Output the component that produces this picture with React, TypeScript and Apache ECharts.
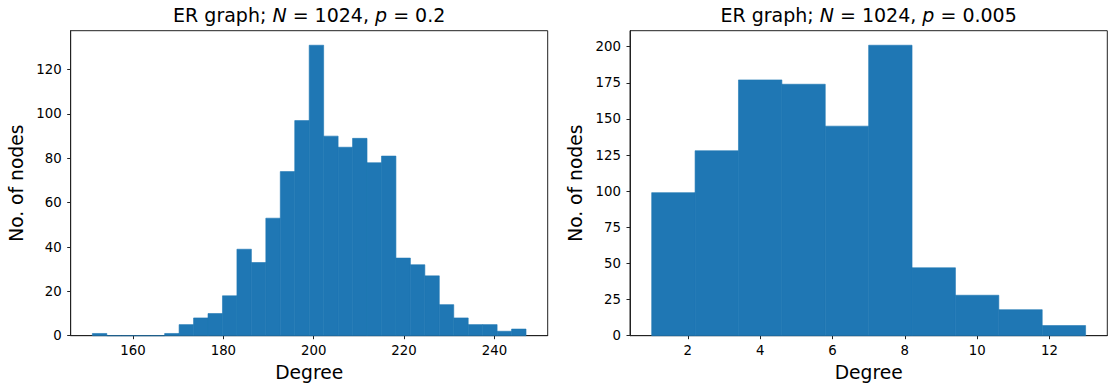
import { useEffect, useRef } from "react";
import * as echarts from "echarts";

const FONT = "DejaVu Sans";
const BAR_COLOR = "#1f77b4";
const FRAME = "#222";

// Left panel: ER graph, N = 1024, p = 0.2 (30 bins)
const leftBinEdges = [
  151, 154.2, 157.4, 160.6, 163.8, 167, 170.2, 173.4, 176.6, 179.8, 183,
  186.2, 189.4, 192.6, 195.8, 199, 202.2, 205.4, 208.6, 211.8, 215, 218.2,
  221.4, 224.6, 227.8, 231, 234.2, 237.4, 240.6, 243.8, 247,
];
const leftCounts = [
  1, 0, 0, 0, 0, 1, 5, 8, 10, 18, 39, 33, 53, 74, 97, 131, 90, 85, 89, 78, 81,
  35, 32, 27, 14, 8, 5, 5, 2, 3,
];
const leftXTicks = [160, 180, 200, 220, 240];
const leftYTicks = [0, 20, 40, 60, 80, 100, 120];

// Right panel: ER graph, N = 1024, p = 0.005 (10 bins)
const rightBinEdges = [1, 2.2, 3.4, 4.6, 5.8, 7, 8.2, 9.4, 10.6, 11.8, 13];
const rightCounts = [99, 128, 177, 174, 145, 201, 47, 28, 18, 7];
const rightXTicks = [2, 4, 6, 8, 10, 12];
const rightYTicks = [0, 25, 50, 75, 100, 125, 150, 175, 200];

const leftTitle = "{n|ER graph; }{i|N}{n| = 1024, }{i|p}{n| = 0.2}";
const rightTitle = "{n|ER graph; }{i|N}{n| = 1024, }{i|p}{n| = 0.005}";

function histSeries(edges: number[], counts: number[], idx: number) {
  const data = counts.map((c, i) => [edges[i], edges[i + 1], c]);
  return {
    type: "custom",
    xAxisIndex: idx,
    yAxisIndex: idx,
    data,
    encode: { x: [0, 1], y: 2 },
    renderItem: (_params: any, api: any) => {
      const p0 = api.coord([api.value(0), api.value(2)]);
      const p1 = api.coord([api.value(1), 0]);
      return {
        type: "rect",
        shape: { x: p0[0], y: p0[1], width: p1[0] - p0[0], height: p1[1] - p0[1] },
        style: { fill: BAR_COLOR, stroke: BAR_COLOR, lineWidth: 0.6 },
      };
    },
  };
}

function xAxis(idx: number, min: number, max: number, ticks: number[]) {
  return {
    type: "value",
    gridIndex: idx,
    min,
    max,
    splitLine: { show: false },
    axisLine: { show: true, onZero: false, lineStyle: { color: FRAME, width: 1 } },
    axisTick: { show: true, inside: false, length: 3.5, customValues: ticks, lineStyle: { color: FRAME, width: 1 } },
    axisLabel: { customValues: ticks, margin: 8, fontSize: 13.3, color: "#000", fontFamily: FONT },
    name: "Degree",
    nameLocation: "middle",
    nameGap: 27,
    nameTextStyle: { fontSize: 18.7, color: "#000", fontFamily: FONT },
  };
}

function yAxis(idx: number, min: number, max: number, ticks: number[]) {
  return {
    type: "value",
    gridIndex: idx,
    min,
    max,
    splitLine: { show: false },
    axisLine: { show: true, onZero: false, lineStyle: { color: FRAME, width: 1 } },
    axisTick: { show: true, inside: false, length: 3.5, customValues: ticks, lineStyle: { color: FRAME, width: 1 } },
    axisLabel: { customValues: ticks, margin: 9, fontSize: 13.3, color: "#000", fontFamily: FONT },
    name: "No. of nodes",
    nameLocation: "middle",
    nameRotate: 90,
    nameGap: 45,
    nameTextStyle: { fontSize: 18.7, color: "#000", fontFamily: FONT },
  };
}

function titleText(x: number, text: string) {
  return {
    type: "text",
    x,
    y: 15,
    style: {
      text,
      align: "center",
      verticalAlign: "middle",
      fill: "#000",
      rich: {
        n: { fontSize: 19, fontFamily: FONT, fill: "#000", color: "#000" },
        i: { fontSize: 19, fontFamily: FONT, fontStyle: "italic", fill: "#000", color: "#000" },
      },
    },
  };
}

export default function App() {
  const ref = useRef<HTMLDivElement>(null);
  useEffect(() => {
    if (!ref.current) return;
    const chart = echarts.init(ref.current, null, { renderer: "svg" });
    const leftGrid = { left: 70.7, top: 30.7, width: 477, height: 305 };
    const rightGrid = { left: 630, top: 30.7, width: 477.3, height: 305 };
    chart.setOption({
      animation: false,
      backgroundColor: "#fff",
      grid: [
        { ...leftGrid, show: true, borderColor: FRAME, borderWidth: 1, backgroundColor: "transparent" },
        { ...rightGrid, show: true, borderColor: FRAME, borderWidth: 1, backgroundColor: "transparent" },
      ],
      xAxis: [xAxis(0, 146.2, 251.8, leftXTicks), xAxis(1, 0.4, 13.6, rightXTicks)],
      yAxis: [yAxis(0, 0, 137.55, leftYTicks), yAxis(1, 0, 211.05, rightYTicks)],
      series: [histSeries(leftBinEdges, leftCounts, 0), histSeries(rightBinEdges, rightCounts, 1)],
      graphic: [titleText(309.2, leftTitle), titleText(868.6, rightTitle)],
    });
    return () => chart.dispose();
  }, []);
  return (
    <div
      ref={ref}
      style={{ position: "absolute", left: 0, top: 0, width: 1117, height: 390 }}
    />
  );
}
